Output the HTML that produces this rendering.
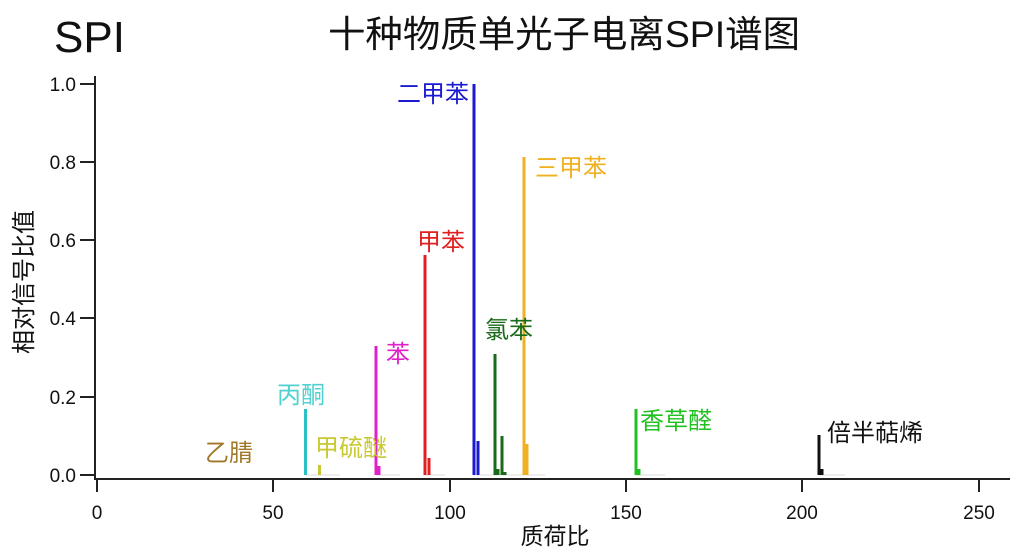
<!DOCTYPE html>
<html><head><meta charset="utf-8"><style>
body{margin:0;background:#fff;width:1024px;height:552px;overflow:hidden}
text{font-family:"Liberation Sans","Noto Sans CJK SC",sans-serif}
</style></head><body>
<svg width="1024" height="552" xmlns="http://www.w3.org/2000/svg">
<text x="54" y="52" font-size="44" fill="#111">SPI</text>
<text x="564" y="47" font-size="37" text-anchor="middle" fill="#111" textLength="472" lengthAdjust="spacingAndGlyphs">十种物质单光子电离SPI谱图</text>
<g stroke="#222" stroke-width="2">
<line x1="95" y1="76" x2="95" y2="480"/>
<line x1="94" y1="479" x2="1010" y2="479"/>
<line x1="80" y1="475" x2="95" y2="475"/><line x1="80" y1="397" x2="95" y2="397"/>
<line x1="80" y1="318" x2="95" y2="318"/><line x1="80" y1="240" x2="95" y2="240"/>
<line x1="80" y1="162" x2="95" y2="162"/><line x1="80" y1="84" x2="95" y2="84"/>
<line x1="97" y1="479" x2="97" y2="492"/><line x1="273" y1="479" x2="273" y2="492"/>
<line x1="450" y1="479" x2="450" y2="492"/><line x1="626" y1="479" x2="626" y2="492"/>
<line x1="802" y1="479" x2="802" y2="492"/><line x1="979" y1="479" x2="979" y2="492"/>
</g>
<g font-size="19" fill="#111" text-anchor="end">
<text x="76" y="482">0.0</text><text x="76" y="404">0.2</text><text x="76" y="325">0.4</text>
<text x="76" y="247">0.6</text><text x="76" y="169">0.8</text><text x="76" y="91">1.0</text>
</g>
<g font-size="19" fill="#111" text-anchor="middle">
<text x="97" y="519">0</text><text x="273" y="519">50</text><text x="450" y="519">100</text>
<text x="626" y="519">150</text><text x="802" y="519">200</text><text x="979" y="519">250</text>
</g>
<text x="555" y="544" font-size="23" text-anchor="middle" fill="#111">质荷比</text>
<text transform="translate(32,282) rotate(-90)" font-size="24" text-anchor="middle" fill="#111">相对信号比值</text>
<g stroke="#ddd" stroke-width="1">
<line x1="305" y1="475" x2="340" y2="475"/><line x1="376" y1="475" x2="400" y2="475"/>
<line x1="425" y1="475" x2="445" y2="475"/><line x1="474" y1="475" x2="545" y2="475"/>
<line x1="636" y1="475" x2="665" y2="475"/><line x1="819" y1="475" x2="845" y2="475"/>
</g>
<g stroke-width="3">
<line x1="305.5" y1="409" x2="305.5" y2="475" stroke="#2bc0c4"/>
<line x1="319.5" y1="465" x2="319.5" y2="475" stroke="#c8c830"/>
<line x1="376" y1="346" x2="376" y2="475" stroke="#e020c8"/><line x1="379" y1="466" x2="379" y2="475" stroke="#e020c8"/>
<line x1="425" y1="255" x2="425" y2="475" stroke="#e02020"/><line x1="429" y1="458" x2="429" y2="475" stroke="#e02020"/>
<line x1="474" y1="84" x2="474" y2="475" stroke="#1a1ad0"/><line x1="478" y1="441" x2="478" y2="475" stroke="#1a1ad0"/>
<line x1="495" y1="354" x2="495" y2="475" stroke="#1a6a1a"/><line x1="498" y1="469" x2="498" y2="475" stroke="#1a6a1a"/>
<line x1="502" y1="436" x2="502" y2="475" stroke="#1a6a1a"/><line x1="505" y1="472" x2="505" y2="475" stroke="#1a6a1a"/>
<line x1="524" y1="157" x2="524" y2="475" stroke="#f0b020"/><line x1="527" y1="444" x2="527" y2="475" stroke="#f0b020"/>
<line x1="636" y1="409" x2="636" y2="475" stroke="#20c020"/><line x1="639" y1="469" x2="639" y2="475" stroke="#20c020"/>
<line x1="819" y1="435" x2="819" y2="475" stroke="#111"/><line x1="822" y1="469" x2="822" y2="475" stroke="#111"/>
</g>
<g font-size="24">
<text x="205" y="461" fill="#a07828">乙腈</text>
<text x="277" y="403" fill="#50d0d0">丙酮</text>
<text x="315" y="456" fill="#c8c830">甲硫醚</text>
<text x="386" y="362" fill="#e020c8">苯</text>
<text x="417" y="250" fill="#e02020">甲苯</text>
<text x="397" y="102" fill="#1a1ad0">二甲苯</text>
<text x="485" y="338" fill="#1a6a1a">氯苯</text>
<text x="535" y="176" fill="#f0b020">三甲苯</text>
<text x="640" y="429" fill="#20c020">香草醛</text>
<text x="827" y="441" fill="#111">倍半萜烯</text>
</g>
</svg>
</body></html>
